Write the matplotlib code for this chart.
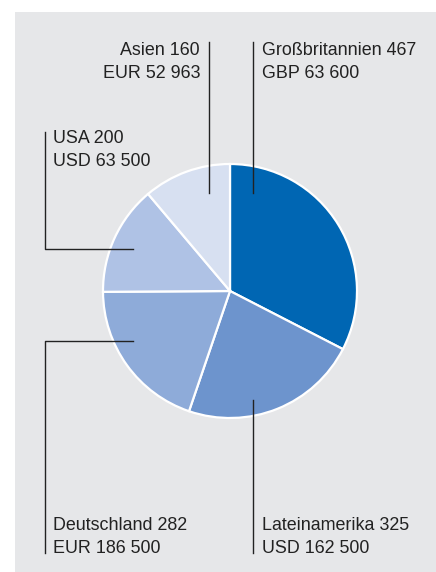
import matplotlib.pyplot as plt
from matplotlib.patches import Rectangle

# data
regions = ['Großbritannien', 'Lateinamerika', 'Deutschland', 'USA', 'Asien']
counts = [467, 325, 282, 200, 160]
amounts = ['GBP 63 600', 'USD 162 500', 'EUR 186 500', 'USD 63 500', 'EUR 52 963']
colors = ['#0066b3', '#6d94cd', '#8eabd9', '#afc2e5', '#d7e0f1']

W, H = 436, 572
plt.rcParams['font.family'] = ['Liberation Sans', 'DejaVu Sans']

fig = plt.figure(figsize=(W / 100, H / 100), dpi=100)
fig.patch.set_facecolor('white')
ax = fig.add_axes([0, 0, 1, 1])

# grey panel
ax.add_patch(Rectangle((15, 0), W - 15, H - 12, facecolor='#e6e7e9', edgecolor='none', zorder=0))

def py(y):
    # pixel row -> data y
    return H - y

ax.pie(counts, colors=colors, startangle=90, counterclock=False,
       center=(230, py(291)), radius=127, frame=True,
       wedgeprops=dict(edgecolor='white', linewidth=1.6))
ax.set_xlim(0, W)
ax.set_ylim(0, H)
ax.set_aspect('equal')
ax.axis('off')

lc = '#222222'
lw = 1.0
fs = 12.9
tc = '#222222'

def label(i, x, y1, ha):
    ax.text(x, py(y1), f'{regions[i]} {counts[i]}', ha=ha, va='baseline', fontsize=fs, color=tc)
    ax.text(x, py(y1 + 23), amounts[i], ha=ha, va='baseline', fontsize=fs, color=tc)

# Großbritannien
ax.plot([253, 253], [py(42), py(193)], color=lc, lw=lw)
label(0, 262, 55, 'left')
# Lateinamerika
ax.plot([253, 253], [py(400), py(553)], color=lc, lw=lw)
label(1, 262, 530, 'left')
# Deutschland
ax.plot([133, 45, 45], [py(341), py(341), py(553)], color=lc, lw=lw)
label(2, 53, 530, 'left')
# USA
ax.plot([45, 45, 133], [py(132), py(249), py(249)], color=lc, lw=lw)
label(3, 53, 143, 'left')
# Asien
ax.plot([209, 209], [py(42), py(193)], color=lc, lw=lw)
label(4, 200, 55, 'right')

fig.savefig('out.png', dpi=100)
